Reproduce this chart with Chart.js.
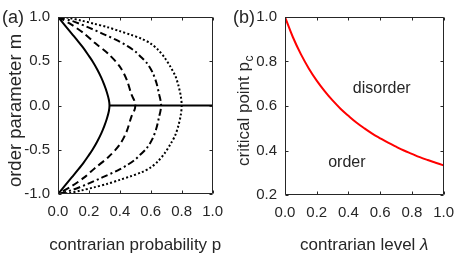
<!DOCTYPE html>
<html><head><meta charset="utf-8">
<script src="https://cdn.jsdelivr.net/npm/chart.js@4.4.1/dist/chart.umd.min.js"></script>
<style>
html,body{margin:0;padding:0;background:#fff;}
#wrap{position:relative;width:463px;height:254px;overflow:hidden;background:#fff;}
#cA{position:absolute;left:0;top:0;}
#cB{position:absolute;left:232px;top:0;}
</style></head><body>
<div id="wrap"><canvas id="cA" width="232" height="254"></canvas><canvas id="cB" width="231" height="254"></canvas></div>
<script>
// ---------- data: panel (a) ----------
const pTicks = [0, 0.2, 0.4, 0.6, 0.8, 1.0];
const pTickLabels = ['0.0', '0.2', '0.4', '0.6', '0.8', '1.0'];
const mTicks = [-1, -0.5, 0, 0.5, 1];
const mTickLabels = ['-1.0', '-0.5', '0.0', '0.5', '1.0'];

const solidP = [0, 0.05, 0.09, 0.13, 0.166, 0.2, 0.225, 0.253, 0.28, 0.3, 0.316, 0.329, 0.333, 0.329, 0.316, 0.3, 0.28, 0.253, 0.225, 0.2, 0.166, 0.13, 0.09, 0.05, 0];
const solidM = [1, 0.895, 0.81, 0.725, 0.645, 0.56, 0.495, 0.41, 0.315, 0.23, 0.15, 0.065, 0, -0.065, -0.15, -0.23, -0.315, -0.41, -0.495, -0.56, -0.645, -0.725, -0.81, -0.895, -1];

const dashP = [0, 0.09, 0.168, 0.24, 0.325, 0.4, 0.445, 0.475, 0.495, 0.5, 0.495, 0.475, 0.445, 0.4, 0.325, 0.24, 0.168, 0.09, 0];
const dashM = [1, 0.91, 0.815, 0.705, 0.585, 0.44, 0.29, 0.125, 0.05, 0, -0.05, -0.125, -0.29, -0.44, -0.585, -0.705, -0.815, -0.91, -1];

const dashDotP = [0, 0.1, 0.2, 0.29, 0.39, 0.45, 0.5, 0.53, 0.575, 0.61, 0.637, 0.655, 0.663, 0.667, 0.663, 0.655, 0.637, 0.61, 0.575, 0.53, 0.5, 0.45, 0.39, 0.29, 0.2, 0.1, 0];
const dashDotM = [1, 0.95, 0.88, 0.81, 0.73, 0.67, 0.61, 0.56, 0.48, 0.38, 0.255, 0.12, 0.06, 0, -0.06, -0.12, -0.255, -0.38, -0.48, -0.56, -0.61, -0.67, -0.73, -0.81, -0.88, -0.95, -1];

const dotP = [0, 0.07, 0.15, 0.232, 0.32, 0.4, 0.47, 0.54, 0.6, 0.647, 0.69, 0.73, 0.76, 0.78, 0.795, 0.8, 0.795, 0.78, 0.76, 0.73, 0.69, 0.647, 0.6, 0.54, 0.47, 0.4, 0.32, 0.232, 0.15, 0.07, 0];
const dotM = [1, 0.99, 0.96, 0.925, 0.885, 0.84, 0.8, 0.755, 0.7, 0.63, 0.54, 0.43, 0.33, 0.22, 0.1, 0, -0.1, -0.22, -0.33, -0.43, -0.54, -0.63, -0.7, -0.755, -0.8, -0.84, -0.885, -0.925, -0.96, -0.99, -1];

const zeroP = [0.333, 1.0];
const zeroM = [0, 0];

// ---------- data: panel (b) ----------
const lamTicks = [0, 0.2, 0.4, 0.6, 0.8, 1.0];
const lamTickLabels = ['0.0', '0.2', '0.4', '0.6', '0.8', '1.0'];
const pcTicks = [0.2, 0.4, 0.6, 0.8, 1.0];
const pcTickLabels = ['0.2', '0.4', '0.6', '0.8', '1.0'];
const lamValues = [0, 0.05, 0.1, 0.15, 0.2, 0.25, 0.3, 0.35, 0.4, 0.45, 0.5, 0.55, 0.6, 0.65, 0.7, 0.75, 0.8, 0.85, 0.9, 0.95, 1.0];
const pcValues = [1.0, 0.909, 0.833, 0.769, 0.714, 0.667, 0.625, 0.588, 0.556, 0.526, 0.5, 0.476, 0.455, 0.435, 0.417, 0.4, 0.385, 0.37, 0.357, 0.345, 0.333];
const regionLabels = ['disorder', 'order'];
const regionLam = [0.61, 0.39];
const regionPc = [0.68, 0.345];

// ---------- helpers ----------
const ink = '#262626';
const FONT = '"Liberation Sans", Arial, Helvetica, sans-serif';
const pts = (xs, ys) => xs.map((v, i) => ({x: v, y: ys[i]}));

function axisOpts(min, max, ticks, labels, pad, fit, isX) {
  return {
    type: 'linear', min: min, max: max,
    grid: {display: false, drawTicks: false},
    border: {display: false},
    afterBuildTicks(s) { s.ticks = ticks.map(v => ({value: v})); },
    afterFit(s) { if (isX) s.height = fit; else s.width = fit; },
    ticks: {
      autoSkip: false, maxRotation: 0, padding: pad, color: ink,
      font: {family: FONT, size: 15},
      callback(v) { const i = ticks.findIndex(t => Math.abs(t - v) < 1e-9); return i >= 0 ? labels[i] : ''; }
    }
  };
}

const deco = {
  id: 'deco',
  afterDatasetsDraw(chart, args, o) {
    const {ctx, chartArea: a, scales: {x, y}} = chart;
    ctx.save();
    ctx.strokeStyle = ink; ctx.lineWidth = 1;
    const L = Math.round(a.left) + 0.5, R = Math.round(a.right) - 0.5;
    const T = Math.round(a.top) + 0.5, B = Math.round(a.bottom) - 0.5;
    ctx.beginPath();
    ctx.rect(L, T, R - L, B - T);
    const tl = 3;
    o.xTicks.forEach(v => {
      const px = Math.round(x.getPixelForValue(v)) + 0.5;
      ctx.moveTo(px, B); ctx.lineTo(px, B - tl);
      ctx.moveTo(px, T); ctx.lineTo(px, T + tl);
    });
    o.yTicks.forEach(v => {
      const py = Math.round(y.getPixelForValue(v)) + 0.5;
      ctx.moveTo(L, py); ctx.lineTo(L + tl, py);
      ctx.moveTo(R, py); ctx.lineTo(R - tl, py);
    });
    ctx.stroke();

    ctx.fillStyle = ink;
    // panel label
    ctx.font = '18px ' + FONT;
    ctx.textAlign = 'left'; ctx.textBaseline = 'alphabetic';
    ctx.fillText(o.panel, o.panelX, o.panelY);

    // x title (with optional italic tail)
    const cx = (a.left + a.right) / 2;
    ctx.font = '17px ' + FONT;
    const w1 = ctx.measureText(o.xTitle).width;
    let w2 = 0;
    if (o.xTail) { ctx.font = 'italic 17px ' + FONT; w2 = ctx.measureText(o.xTail).width; }
    let sx = cx - (w1 + w2) / 2;
    ctx.font = '17px ' + FONT;
    ctx.fillText(o.xTitle, sx, o.xTitleY);
    if (o.xTail) { ctx.font = 'italic 17px ' + FONT; ctx.fillText(o.xTail, sx + w1, o.xTitleY); }

    // y title (rotated, optional subscript)
    ctx.save();
    ctx.translate(o.yTitleX, (a.top + a.bottom) / 2 + o.yShift);
    ctx.rotate(-Math.PI / 2);
    const fs = o.yFont;
    ctx.font = fs + 'px ' + FONT;
    const m1 = ctx.measureText(o.yTitle).width;
    let m2 = 0;
    if (o.ySub) { ctx.font = '12px ' + FONT; m2 = ctx.measureText(o.ySub).width; }
    const st = -(m1 + m2) / 2;
    ctx.font = fs + 'px ' + FONT;
    ctx.fillText(o.yTitle, st, 0);
    if (o.ySub) { ctx.font = '12px ' + FONT; ctx.fillText(o.ySub, st + m1 + 0.5, 4); }
    ctx.restore();

    // region notes
    if (o.notes) {
      ctx.font = '16px ' + FONT;
      ctx.textAlign = 'center'; ctx.textBaseline = 'middle';
      o.notes.forEach((t, i) => ctx.fillText(t, x.getPixelForValue(o.noteX[i]), y.getPixelForValue(o.noteY[i])));
    }
    ctx.restore();
  }
};

function lineDs(xs, ys, dash, color, width, tension) {
  return {data: pts(xs, ys), borderColor: color, borderWidth: width, borderDash: dash,
    pointRadius: 0, showLine: true, fill: false, tension: tension, borderCapStyle: 'butt'};
}

// ---------- panel (a) ----------
new Chart(document.getElementById('cA'), {
  type: 'scatter',
  data: {datasets: [
    lineDs(solidP, solidM, [], '#000', 2, 0.3),
    lineDs(dashP, dashM, [7, 4], '#000', 2, 0.3),
    lineDs(dashDotP, dashDotM, [7, 3, 2, 3], '#000', 2, 0.3),
    lineDs(dotP, dotM, [2, 2.2], '#000', 2, 0.3),
    lineDs(zeroP, zeroM, [], '#000', 2, 0)
  ]},
  options: {
    responsive: false, animation: false, events: [],
    layout: {padding: {left: 0, right: 11, top: 14, bottom: 0}},
    plugins: {legend: {display: false}, tooltip: {enabled: false},
      deco: {xTicks: pTicks, yTicks: mTicks, panel: '(a)', panelX: 2, panelY: 23,
        xTitle: 'contrarian probability p', xTitleY: 250,
        yTitle: 'order parameter m', yTitleX: 21, yFont: 18.5, yShift: 5}},
    scales: {
      x: axisOpts(0, 1, pTicks, pTickLabels, 9, 60, true),
      y: axisOpts(-1, 1, mTicks, mTickLabels, 8, 58, false)
    }
  },
  plugins: [deco]
});

// ---------- panel (b) ----------
new Chart(document.getElementById('cB'), {
  type: 'scatter',
  data: {datasets: [
    lineDs(lamValues, pcValues, [], '#ff0000', 2, 0.4)
  ]},
  options: {
    responsive: false, animation: false, events: [],
    layout: {padding: {left: 0, right: 16, top: 14, bottom: 0}},
    plugins: {legend: {display: false}, tooltip: {enabled: false},
      deco: {xTicks: lamTicks, yTicks: pcTicks, panel: '(b)', panelX: 1, panelY: 23,
        xTitle: 'contrarian level ', xTail: '\u03bb', xTitleY: 250,
        yTitle: 'critical point p', ySub: 'c', yTitleX: 17, yFont: 17, yShift: 5,
        notes: regionLabels, noteX: regionLam, noteY: regionPc}},
    scales: {
      x: axisOpts(0, 1, lamTicks, lamTickLabels, 9, 59, true),
      y: axisOpts(0.2, 1, pcTicks, pcTickLabels, 8, 53, false)
    }
  },
  plugins: [deco]
});
</script>
</body></html>
